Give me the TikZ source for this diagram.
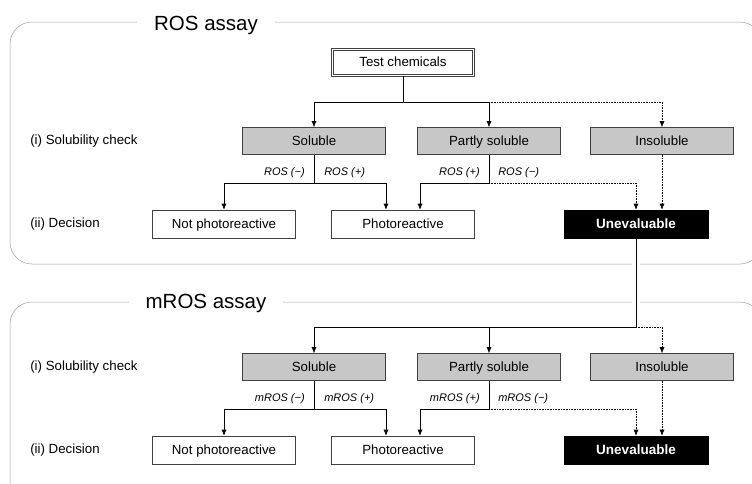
\documentclass[tikz,border=0pt]{standalone}
\usepackage{fontspec}
\setmainfont{Liberation Sans}
\usetikzlibrary{arrows.meta, positioning}
\definecolor{boxgray}{rgb}{0.78, 0.78, 0.78}
\definecolor{framegray}{rgb}{0.62, 0.62, 0.62}

\tikzset{
	frame/.style={draw=framegray, line width=0.5pt, rounded corners=22pt},
	ttl/.style={fill=white, font=\fontsize{20.5}{24}\selectfont, inner xsep=17pt, inner ysep=1pt},
	boxtext/.style={text height=9.6pt, text depth=0.6pt, font=\fontsize{13.3}{16}\selectfont},
	src/.style={boxtext, draw=black!75, line width=0.9pt, fill=white, minimum width=143pt, minimum height=28pt},
	chk/.style={boxtext, draw=black!75, fill=boxgray, minimum width=143pt, minimum height=27pt},
	dec/.style={boxtext, draw=black!75, fill=white, minimum width=143pt, minimum height=28pt},
	bad/.style={boxtext, draw=black, fill=black, text=white, minimum width=144pt, minimum height=28pt, font=\bfseries\fontsize{13.5}{16}\selectfont},
	stage/.style={anchor=west, inner sep=0pt, font=\fontsize{13.3}{16}\selectfont},
	res/.style={inner sep=0pt, font=\itshape\fontsize{11}{13}\selectfont},
	arr/.style={-{Latex[length=6pt, width=5pt]}},
	dot/.style={densely dotted}
}

\begin{document}
\begin{tikzpicture}[x=1pt, y=-1pt, line width=0.6pt]
		\useasboundingbox (0,0) rectangle (752,483);
		\clip (0,0) rectangle (752,483);
		% assay frames
		\draw[frame] (10,22) rectangle (762,264);
		\draw[frame] (10,302) rectangle (762,505);
		\node[ttl, anchor=base] (rostitle) at (206,30) {ROS assay};
		\node[ttl, anchor=base] (mrostitle) at (206,308) {mROS assay};
		% start
		\node[src] (test) at (403,62) {Test chemicals};
		\draw[black!75, line width=0.5pt] ([shift={(2.5pt,-2.5pt)}]test.north west) rectangle ([shift={(-2.5pt,2.5pt)}]test.south east);
		\coordinate (fork) at (403,102);
		% both assays have the same rows
		\foreach \o/\a in {0/ROS, 226/mROS}{
			\node[stage] (chk\a) at (30,141+\o) {(i) Solubility check};
			\node[stage] (dec\a) at (30,224+\o) {(ii) Decision};
			\node[chk] (sol\a) at (314,141+\o) {Soluble};
			\node[chk] (part\a) at (489,141+\o) {Partly soluble};
			\node[chk] (insol\a) at (662,141+\o) {Insoluble};
			\node[dec] (notp\a) at (224,224+\o) {Not photoreactive};
			\node[dec] (photo\a) at (403,224+\o) {Photoreactive};
			\node[bad] (uneval\a) at (636,224+\o) {Unevaluable};
			\coordinate (sfork\a) at (314,183+\o);
			\coordinate (pfork\a) at (489,183+\o);
			% soluble
			\draw (sol\a) -- (sfork\a);
			\draw[arr] (sfork\a) -| (notp\a);
			\draw[arr] (sfork\a) -| ([xshift=-17pt]photo\a.north);
			\node[res, anchor=east] (sneg\a) at (305,173+\o) {\a\ (−)};
			\node[res, anchor=west] (spos\a) at (324,173+\o) {\a\ (+)};
			% partly soluble
			\draw (part\a) -- (pfork\a);
			\draw[arr] (pfork\a) -| ([xshift=17pt]photo\a.north);
			\draw[arr, dot] (pfork\a) -| (uneval\a);
			\node[res, anchor=east] (ppos\a) at (480,173+\o) {\a\ (+)};
			\node[res, anchor=west] (pneg\a) at (498,173+\o) {\a\ (−)};
			% insoluble
			\draw[arr, dot] (insol\a) -- (insol\a |- uneval\a.north);
		}
		% into ROS assay
		\draw (test) -- (fork);
		\draw[arr] (fork) -| (solROS);
		\draw[arr] (fork) -| (partROS);
		\draw[arr, dot] (partROS |- fork) -| (insolROS);
		% unevaluable goes on to mROS assay
		\coordinate (mfork) at (636,327);
		\draw[preaction={draw=white, line width=8pt, shorten <=12pt, shorten >=12pt}] (unevalROS) -- (mfork);
		\draw[arr] (mfork) -| (solmROS);
		\draw[arr] (mfork) -| (partmROS);
		\draw[arr, dot] (mfork) -| (insolmROS);
	\end{tikzpicture}
\end{document}
